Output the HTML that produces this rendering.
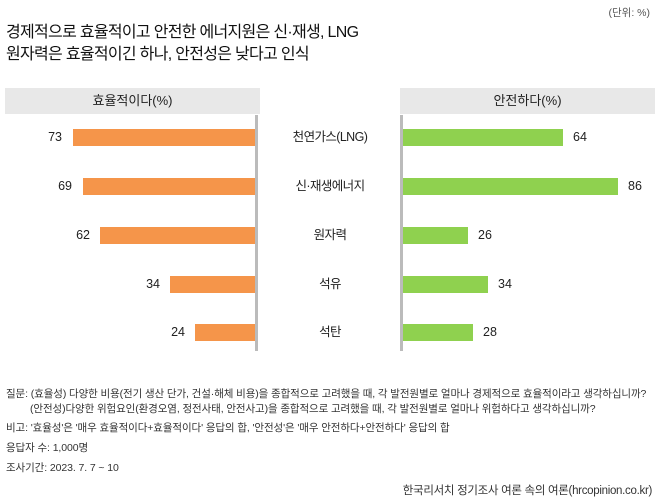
<!DOCTYPE html>
<html><head><meta charset="utf-8"><style>
body{margin:0;width:658px;height:503px;background:#fff;position:relative;overflow:hidden;font-family:"Liberation Sans","Noto Sans CJK KR",sans-serif;color:#222}
.a{position:absolute;white-space:nowrap}
.hd{position:absolute;top:88px;height:26px;background:#e8e8e8;font-size:13px;text-align:center;line-height:26px;color:#222}
.bo{position:absolute;height:17px;background:#f5954a}
.bg{position:absolute;height:17px;background:#8fd14f}
.v{position:absolute;font-size:12.5px;line-height:17px}
.c{position:absolute;left:260px;width:140px;text-align:center;font-size:12.5px;line-height:17px;letter-spacing:-0.6px}
.f{position:absolute;left:6px;font-size:10.5px;color:#333;white-space:nowrap;letter-spacing:-0.1px}
</style></head><body>
<div class="a" style="right:8px;top:5px;font-size:10.5px;color:#555">(단위: %)</div>
<div class="a" style="left:6px;top:22px;font-size:16px;line-height:22px;color:#111;letter-spacing:-0.7px">경제적으로 효율적이고 안전한 에너지원은 신·재생, LNG<br>원자력은 효율적이긴 하나, 안전성은 낮다고 인식</div>
<div class="hd" style="left:5px;width:255px">효율적이다(%)</div>
<div class="hd" style="left:400px;width:255px">안전하다(%)</div>
<div class="a" style="left:255px;top:115px;width:3px;height:236px;background:#bbb"></div>
<div class="a" style="left:400px;top:115px;width:3px;height:236px;background:#bbb"></div>

<div class="bo" style="left:73px;width:182px;top:129px"></div><div class="v" style="right:596px;top:129px">73</div>
<div class="c" style="top:129px">천연가스(LNG)</div>
<div class="bg" style="left:403px;width:160px;top:129px"></div><div class="v" style="left:573px;top:129px">64</div>

<div class="bo" style="left:83px;width:172px;top:178px"></div><div class="v" style="right:586px;top:178px">69</div>
<div class="c" style="top:178px">신·재생에너지</div>
<div class="bg" style="left:403px;width:215px;top:178px"></div><div class="v" style="left:628px;top:178px">86</div>

<div class="bo" style="left:100px;width:155px;top:227px"></div><div class="v" style="right:568px;top:227px">62</div>
<div class="c" style="top:227px">원자력</div>
<div class="bg" style="left:403px;width:65px;top:227px"></div><div class="v" style="left:478px;top:227px">26</div>

<div class="bo" style="left:170px;width:85px;top:276px"></div><div class="v" style="right:498px;top:276px">34</div>
<div class="c" style="top:276px">석유</div>
<div class="bg" style="left:403px;width:85px;top:276px"></div><div class="v" style="left:498px;top:276px">34</div>

<div class="bo" style="left:195px;width:60px;top:324px"></div><div class="v" style="right:473px;top:324px">24</div>
<div class="c" style="top:324px">석탄</div>
<div class="bg" style="left:403px;width:70px;top:324px"></div><div class="v" style="left:483px;top:324px">28</div>

<div class="f" style="top:386px">질문: (효율성) 다양한 비용(전기 생산 단가, 건설·해체 비용)을 종합적으로 고려했을 때, 각 발전원별로 얼마나 경제적으로 효율적이라고 생각하십니까?</div>
<div class="f" style="top:401px;left:30px">(안전성)다양한 위험요인(환경오염, 정전사태, 안전사고)을 종합적으로 고려했을 때, 각 발전원별로 얼마나 위험하다고 생각하십니까?</div>
<div class="f" style="top:420px">비고: '효율성'은 '매우 효율적이다+효율적이다' 응답의 합, '안전성'은 '매우 안전하다+안전하다' 응답의 합</div>
<div class="f" style="top:440px">응답자 수: 1,000명</div>
<div class="f" style="top:460px">조사기간: 2023. 7. 7 ~ 10</div>
<div class="f" style="top:482px;left:auto;right:6px;font-size:11.5px;letter-spacing:-0.3px">한국리서치 정기조사 여론 속의 여론(hrcopinion.co.kr)</div>
</body></html>
